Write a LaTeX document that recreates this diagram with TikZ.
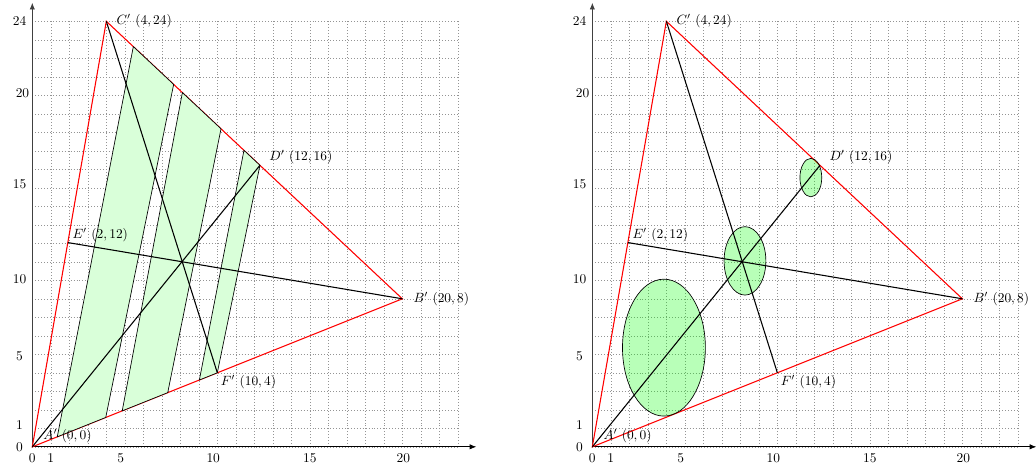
\documentclass[tikz,border=0pt]{standalone}
\usetikzlibrary{calc,arrows.meta}
\begin{document}
\begin{tikzpicture}[x=0.485cm,y=0.485cm,
  font=\fontsize{10}{12}\selectfont,
  gridline/.style={black!42, dash pattern=on 0.5pt off 1.7pt, line width=0.4pt},
  axisline/.style={-{Latex[length=5pt,width=4pt]}, line width=0.6pt},
  tri/.style={red, line width=0.8pt},
  cev/.style={black, line width=0.8pt},
  stripbox/.style={fill=green!15, draw=black, line width=0.5pt},
  ellbox/.style={fill=green, fill opacity=0.28, draw=black, line width=0.5pt},
  ticklab/.style={inner sep=0pt, anchor=center},
  ptlab/.style={inner sep=0pt, anchor=west}]
\useasboundingbox (-1.746,-0.99) rectangle (54.25,24.15);

% ---- common background: grid, axes, ticks, triangle
\foreach \p/\sx in {L/0, R/30.27}{
\begin{scope}[shift={(\sx,0)}]
  \draw[gridline, step=1] (0,0) grid (23,23);
  \coordinate (O\p) at (0,0);
  \coordinate (X\p) at (24,0);
  \coordinate (Y\p) at (0,24);
  \draw[axisline] (O\p) -- (X\p);
  \draw[axisline, black!75] (O\p) -- (Y\p);
  \node[ticklab] (tx0\p) at (0,-0.63) {0};
  \node[ticklab] (tx1\p) at (1.0,-0.63) {1};
  \node[ticklab] (tx5\p) at (4.78,-0.63) {5};
  \node[ticklab] (tx10\p) at (9.78,-0.63) {10};
  \node[ticklab] (tx15\p) at (15.0,-0.63) {15};
  \node[ticklab] (tx20\p) at (20.05,-0.63) {20};
  \node[ticklab] (ty0\p) at (-0.69,-0.03) {0};
  \node[ticklab] (ty1\p) at (-0.69,1.2) {1};
  \node[ticklab] (ty5\p) at (-0.69,4.9) {5};
  \node[ticklab] (ty10\p) at (-0.69,9.05) {10};
  \node[ticklab] (ty15\p) at (-0.69,14.18) {15};
  \node[ticklab] (ty20\p) at (-0.53,19.1) {20};
  \node[ticklab] (ty24\p) at (-0.69,23.0) {24};
  \coordinate (A\p) at (0,0);
  \coordinate (B\p) at (20,8);
  \coordinate (C\p) at (4,23);
  \coordinate (D\p) at ($(C\p)!0.519!(B\p)$);
  \coordinate (E\p) at ($(A\p)!0.48!(C\p)$);
  \coordinate (F\p) at ($(A\p)!0.5!(B\p)$);
  \draw[tri] (A\p) -- (B\p) -- (C\p) -- cycle;
\end{scope}
}

% ---- left panel: strips
\coordinate (P1) at ($(CL)!0.0913!(BL)$);
\coordinate (P2) at ($(CL)!0.2275!(BL)$);
\coordinate (P3) at ($(CL)!0.257!(BL)$);
\coordinate (P4) at ($(CL)!0.3875!(BL)$);
\coordinate (P5) at ($(CL)!0.465!(BL)$);
\coordinate (Q1) at ($(AL)!0.0675!(BL)$);
\coordinate (Q2) at ($(AL)!0.1985!(BL)$);
\coordinate (Q3) at ($(AL)!0.243!(BL)$);
\coordinate (Q4) at ($(AL)!0.366!(BL)$);
\coordinate (Q5) at ($(AL)!0.4515!(BL)$);
\draw[stripbox] (Q1) -- (P1) -- (P2) -- (Q2) -- cycle;
\draw[stripbox] (Q3) -- (P3) -- (P4) -- (Q4) -- cycle;
\draw[stripbox] (Q5) -- (P5) -- (DL) -- (FL) -- cycle;

% ---- right panel: ellipses
\begin{scope}[shift={(30.27,0)}]
  \draw[ellbox] (3.87,5.36) ellipse [x radius=2.24, y radius=3.70];
  \draw[ellbox] (8.25,10.05) ellipse [x radius=1.13, y radius=1.85];
  \draw[ellbox] (11.81,14.55) ellipse [x radius=0.59, y radius=1.04];
\end{scope}

% ---- cevians and labels
\foreach \p in {L,R}{
  \draw[cev] (A\p) -- (D\p);
  \draw[cev] (B\p) -- (E\p);
  \draw[cev] (C\p) -- (F\p);
  \node[ptlab] (lA\p) at ($(A\p)+(0.59,0.6)$) {$A'$ $(0,0)$};
  \node[ptlab] (lB\p) at ($(B\p)+(0.59,0)$) {$B'$ $(20,8)$};
  \node[ptlab] (lC\p) at ($(C\p)+(0.54,0)$) {$C'$ $(4,24)$};
  \node[ptlab] (lD\p) at ($(D\p)+(0.50,0.45)$) {$D'$ $(12,16)$};
  \node[ptlab] (lE\p) at ($(E\p)+(0.24,0.39)$) {$E'$ $(2,12)$};
  \node[ptlab] (lF\p) at ($(F\p)+(0.18,-0.52)$) {$F'$ $(10,4)$};
}
\end{tikzpicture}
\end{document}
